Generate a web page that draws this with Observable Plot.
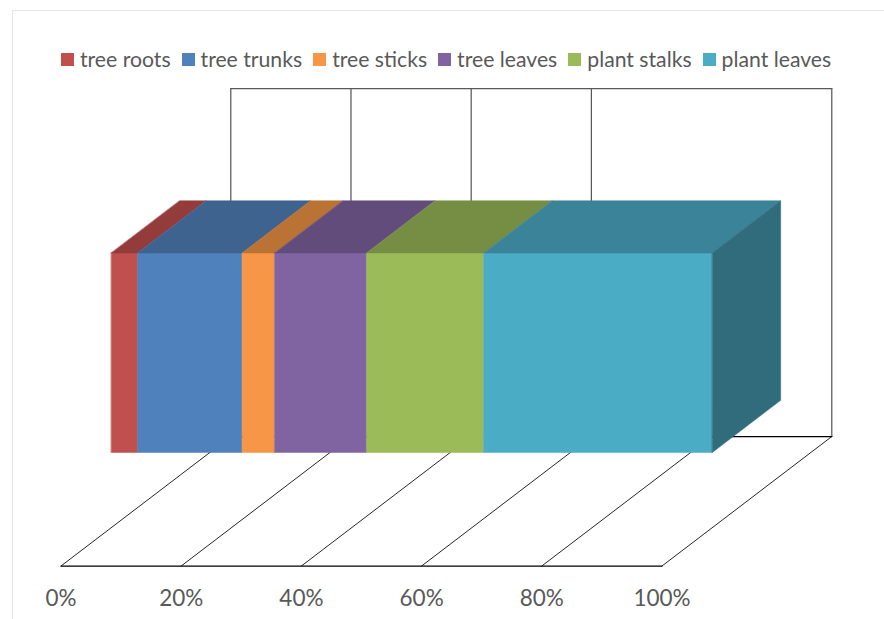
<!DOCTYPE html>
<html>
<head>
<meta charset="utf-8">
<script src="https://cdn.jsdelivr.net/npm/d3@7"></script>
<script src="https://cdn.jsdelivr.net/npm/@observablehq/plot@0.6"></script>
<style>
  html, body { margin: 0; padding: 0; background: #fff; }
  #frame { position: relative; width: 884px; height: 619px; overflow: hidden; font-family: Lato, sans-serif; color: #595959; }
  #border { position: absolute; left: 12px; top: 10px; width: 900px; height: 700px; border: 1.5px solid #e6e6e6; box-sizing: border-box; }
  #legend { position: absolute; left: 61px; top: 46px; display: flex; align-items: center; font-size: 21.2px; line-height: 26px; white-space: nowrap; }
  #legend .item { display: flex; align-items: center; margin-right: 11px; }
  #legend .swatch { width: 13px; height: 13px; margin-right: 6px; }
  #chart { position: absolute; left: 0; top: 78px; }
  #chart text { font-family: Lato, sans-serif; }
</style>
</head>
<body>
<div id="frame">
  <div id="border"></div>
  <div id="legend"></div>
  <div id="chart"></div>
</div>
<script>
// Composition of the material, in percent of the whole stacked bar
const categories = ["tree roots", "tree trunks", "tree sticks", "tree leaves", "plant stalks", "plant leaves"];
const shares = [4.4, 17.4, 5.4, 15.3, 19.5, 38.0];

// Shading of each series on the three visible faces of the block
const frontColors = ["#c0504d", "#4f81bd", "#f79646", "#8064a2", "#9bbb59", "#4bacc6"];
const topColors = ["#933c3b", "#3e638f", "#bb7235", "#624c7c", "#768e43", "#3a8398"];
const sideColor = "#316c7d";

const percentTicks = [0, 20, 40, 60, 80, 100];
const wallTicks = [0, 20, 40, 60, 100];

// Oblique box: depth runs 0..1 from the front floor edge to the back wall
const skewX = 28.25;        // x units gained per full depth
const skewY = 37.2;         // y units gained per full depth
const wallHeight = 100;
const barNear = 0.296, barFar = 0.699;
const barBottom = 21.6, barTop = 78.94;

const at = (pct, depth, height) => ({x: pct + skewX * depth, y: height + skewY * depth});

// Floor and wall frame
const floorDiagonals = [
  ...percentTicks.map((t) => ({id: `f${t}`, ...at(t, 0, 0)})),
  ...percentTicks.map((t) => ({id: `f${t}`, ...at(t, 1, 0)}))
];
const floorEdges = [
  {id: "front", ...at(0, 0, 0)}, {id: "front", ...at(100, 0, 0)},
  {id: "back", ...at(0, 1, 0)}, {id: "back", ...at(100, 1, 0)}
];
const wallLines = [
  ...wallTicks.map((t) => ({id: `w${t}`, ...at(t, 1, 0)})),
  ...wallTicks.map((t) => ({id: `w${t}`, ...at(t, 1, wallHeight)})),
  {id: "top", ...at(0, 1, wallHeight)}, {id: "top", ...at(100, 1, wallHeight)}
];

// Faces of the stacked block
const faces = [];
const polygon = (id, color, corners) => corners.forEach((c) => faces.push({id, color, ...c}));
let start = 0;
shares.forEach((share, i) => {
  const end = start + share;
  polygon(`front${i}`, frontColors[i], [
    at(start, barNear, barBottom), at(end, barNear, barBottom),
    at(end, barNear, barTop), at(start, barNear, barTop)
  ]);
  polygon(`top${i}`, topColors[i], [
    at(start, barNear, barTop), at(end, barNear, barTop),
    at(end, barFar, barTop), at(start, barFar, barTop)
  ]);
  start = end;
});
polygon("side", sideColor, [
  at(start, barNear, barBottom), at(start, barFar, barBottom),
  at(start, barFar, barTop), at(start, barNear, barTop)
]);

const chart = Plot.plot({
  width: 884,
  height: 541,
  marginLeft: 60.5,
  marginRight: 222.5,
  marginTop: 10,
  marginBottom: 53.5,
  x: {domain: [0, 100], axis: null},
  y: {domain: [0, wallHeight + skewY], axis: null},
  color: {type: "identity"},
  marks: [
    Plot.line(wallLines, {x: "x", y: "y", z: "id", stroke: "#595959", strokeWidth: 1.25}),
    Plot.line(floorDiagonals, {x: "x", y: "y", z: "id", stroke: "#262626", strokeWidth: 1}),
    Plot.line(floorEdges, {x: "x", y: "y", z: "id", stroke: "#000", strokeWidth: 1.25}),
    Plot.line(faces, {x: "x", y: "y", z: "id", fill: "color", stroke: "color", strokeWidth: 0.5, curve: "linear-closed"}),
    Plot.axisX(percentTicks, {
      anchor: "bottom",
      tickSize: 0,
      tickPadding: 24,
      tickFormat: (d) => `${d}%`,
      fontSize: 22.5,
      fill: "#595959",
      label: null
    })
  ]
});
document.getElementById("chart").append(chart);

// Legend row above the plot
const legend = d3.select("#legend");
categories.forEach((name, i) => {
  const item = legend.append("div").attr("class", "item");
  item.append("div").attr("class", "swatch").style("background", frontColors[i]);
  item.append("span").text(name);
});
</script>
</body>
</html>
